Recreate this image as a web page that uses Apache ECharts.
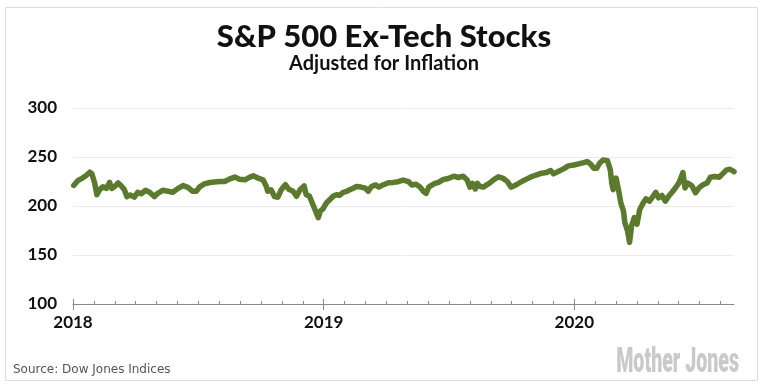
<!DOCTYPE html>
<html>
<head>
<meta charset="utf-8">
<script src="https://cdn.jsdelivr.net/npm/echarts@6/dist/echarts.min.js"></script>
<style>
html,body{margin:0;padding:0;background:#fff;}
#chart{width:768px;height:392px;}
</style>
</head>
<body>
<div id="chart"></div>
<script>
const titleText = 'S&P 500 Ex-Tech Stocks';
const subtitleText = 'Adjusted for Inflation';
const sourceText = 'Source: Dow Jones Indices';
const yTicks = [100, 150, 200, 250, 300];
const yearLabels = ['2018', '2019', '2020'];
const axisEnd = '2020-08-21';

const dates = [
'2018-01-02','2018-01-08','2018-01-15','2018-01-20','2018-01-26','2018-01-29','2018-02-02','2018-02-05','2018-02-09','2018-02-13',
'2018-02-18','2018-02-22','2018-02-25','2018-03-01','2018-03-06','2018-03-10','2018-03-15','2018-03-19','2018-03-24','2018-03-30',
'2018-04-04','2018-04-09','2018-04-15','2018-04-21','2018-04-28','2018-05-03','2018-05-10','2018-05-18','2018-05-25','2018-06-02',
'2018-06-09','2018-06-16','2018-06-23','2018-06-28','2018-07-03','2018-07-10','2018-07-18','2018-07-25','2018-08-02','2018-08-09',
'2018-08-16','2018-08-24','2018-08-31','2018-09-08','2018-09-15','2018-09-20','2018-09-27','2018-10-04','2018-10-09','2018-10-11',
'2018-10-16','2018-10-21','2018-10-26','2018-10-31','2018-11-06','2018-11-11','2018-11-17','2018-11-22','2018-11-27','2018-12-03',
'2018-12-06','2018-12-11','2018-12-14','2018-12-18','2018-12-21','2018-12-24','2018-12-27','2018-12-31','2019-01-05','2019-01-10',
'2019-01-15','2019-01-20','2019-01-25','2019-01-30','2019-02-04','2019-02-08','2019-02-13','2019-02-17','2019-02-23','2019-03-01',
'2019-03-05','2019-03-10','2019-03-16','2019-03-21','2019-03-27','2019-04-04','2019-04-11','2019-04-18','2019-04-25','2019-05-03',
'2019-05-08','2019-05-14','2019-05-20','2019-05-25','2019-05-29','2019-06-02','2019-06-09','2019-06-16','2019-06-23','2019-06-30',
'2019-07-08','2019-07-15','2019-07-22','2019-07-28','2019-08-01','2019-08-05','2019-08-09','2019-08-12','2019-08-16','2019-08-21',
'2019-08-26','2019-08-31','2019-09-06','2019-09-12','2019-09-19','2019-09-25','2019-09-30','2019-10-03','2019-10-08','2019-10-16',
'2019-10-23','2019-10-31','2019-11-07','2019-11-14','2019-11-21','2019-11-27','2019-12-01','2019-12-08','2019-12-16','2019-12-23',
'2019-12-31','2020-01-07','2020-01-15','2020-01-20','2020-01-25','2020-01-30','2020-02-03','2020-02-07','2020-02-12','2020-02-18',
'2020-02-22','2020-02-24','2020-02-26','2020-03-01','2020-03-05','2020-03-08','2020-03-12','2020-03-14','2020-03-18','2020-03-21',
'2020-03-24','2020-03-28','2020-04-01','2020-04-05','2020-04-10','2020-04-14','2020-04-19','2020-04-24','2020-04-28','2020-05-02',
'2020-05-07','2020-05-12','2020-05-17','2020-05-22','2020-05-27','2020-06-01','2020-06-04','2020-06-07','2020-06-10','2020-06-14',
'2020-06-20','2020-06-25','2020-06-30','2020-07-06','2020-07-12','2020-07-17','2020-07-23','2020-07-30','2020-08-04','2020-08-10',
'2020-08-15','2020-08-21'
];
const values = [
221,225.8,228.5,230.8,234.5,233,223.4,211.6,217,219.6,
218,224,218,220,223.5,221,217,209.6,211.3,209,
214,212.5,216,214,209.6,213,216,215,214,218,
220.8,219,215,215,219.6,222.5,224,224.5,225,225,
227.4,229.5,227.4,226.7,229.5,230.8,228.4,226.7,220,215,
216.5,209.6,209,216.5,221.8,217,215,209.9,216.5,220.5,
211.7,209.9,204.9,198.2,193.1,188,194.8,197,203,206.4,
209.9,211.5,211,214,215,216.5,218.2,219.9,219.3,218.2,
215,219.9,221.5,219.3,221.5,223.8,224.1,224.8,226.5,224.8,
221.5,222.1,219.3,215,212.8,219.3,222.5,224.1,227.1,228.1,
230.4,229.1,230.4,226.5,219.3,223.1,217.4,223.1,219.9,219.3,
221.5,223.8,227.1,229.8,228.1,224.8,219.3,220,221.7,225,
227.4,230.1,231.8,233.5,234.1,236.2,232.8,235.2,237.9,240.9,
241.9,242.9,244.3,245.3,242.9,238.5,238.5,243.6,247,246.3,
236.9,223.4,216.7,228.4,215,203.2,194.8,183.1,174.7,162.9,
179.7,188.1,181.4,196.5,203.2,207.3,204.9,210,214,208.3,
210.7,204.9,210,214,218.4,223.4,228.4,234.1,218.4,223.4,
220.7,213.4,218.4,221.7,223.4,229.4,230.1,229.4,232.8,236.9,
237.5,235
];

function toMonths(s) {
  const p = s.split('-').map(Number);
  const dim = new Date(p[0], p[1], 0).getDate();
  return (p[0] - 2018) * 12 + (p[1] - 1) + (p[2] - 1) / dim;
}
const seriesData = dates.map((d, i) => [toMonths(d), values[i]]);
const xMax = toMonths(axisEnd);
const monthTicks = [];
for (let m = 0; m <= Math.floor(xMax); m++) monthTicks.push(m);
const yearTicks = yearLabels.map((y, i) => i * 12);

const chart = echarts.init(document.getElementById('chart'), null, {renderer: 'canvas'});
chart.setOption({
  backgroundColor: '#ffffff',
  animation: false,
  title: [
    {text: titleText, left: 'center', top: 16, textStyle: {fontFamily: 'Lato', fontWeight: 900, fontSize: 31, color: '#111'}},
    {text: subtitleText, left: 'center', top: 49, textStyle: {fontFamily: 'Lato', fontWeight: 'bold', fontSize: 20, color: '#111'}}
  ],
  grid: {left: 73, right: 34, top: 108, bottom: 88, containLabel: false},
  xAxis: [
    {
      type: 'value', min: 0, max: xMax, interval: 1,
      axisLine: {show: true, lineStyle: {color: '#8a8a8a', width: 1}},
      axisTick: {show: true, inside: true, length: 3, customValues: monthTicks, lineStyle: {color: '#8a8a8a'}},
      axisLabel: {show: true, customValues: yearTicks, margin: 10,
        formatter: v => yearLabels[Math.round(v / 12)] || '',
        fontFamily: 'Lato', fontWeight: 'bold', fontSize: 17, color: '#111'},
      splitLine: {show: false}
    },
    {
      type: 'value', min: 0, max: xMax, position: 'bottom', offset: -5,
      axisLine: {show: false},
      axisTick: {show: true, inside: false, length: 11, customValues: yearTicks, lineStyle: {color: '#8a8a8a'}},
      axisLabel: {show: false},
      splitLine: {show: false}
    }
  ],
  yAxis: {
    type: 'value', min: yTicks[0], max: yTicks[yTicks.length - 1], interval: 50,
    axisLine: {show: false}, axisTick: {show: false},
    axisLabel: {margin: 16, fontFamily: 'Lato', fontWeight: 'bold', fontSize: 17, color: '#111'},
    splitLine: {show: true, lineStyle: {color: '#ececec', width: 1}}
  },
  series: [{
    type: 'line', data: seriesData, xAxisIndex: 0, showSymbol: false, symbol: 'none',
    lineStyle: {color: '#5b7a2e', width: 5.5, cap: 'round', join: 'round'},
    z: 5
  }],
  graphic: [
    {type: 'rect', shape: {x: 5.5, y: 7.5, width: 752, height: 373}, style: {fill: 'none', stroke: '#dddddd', lineWidth: 1}, silent: true, z: -1},
    {type: 'text', x: 13, y: 370, style: {text: sourceText, fontFamily: 'DejaVu Sans', fontSize: 12, fill: '#555', textVerticalAlign: 'middle'}},
    {type: 'text', x: 739, y: 363, scaleX: 0.56, style: {text: 'Mother Jones', fontFamily: 'Roboto', fontWeight: 900, fontSize: 35, fill: '#c9c9c9', textAlign: 'right', textVerticalAlign: 'middle'}}
  ]
});
</script>
</body>
</html>
